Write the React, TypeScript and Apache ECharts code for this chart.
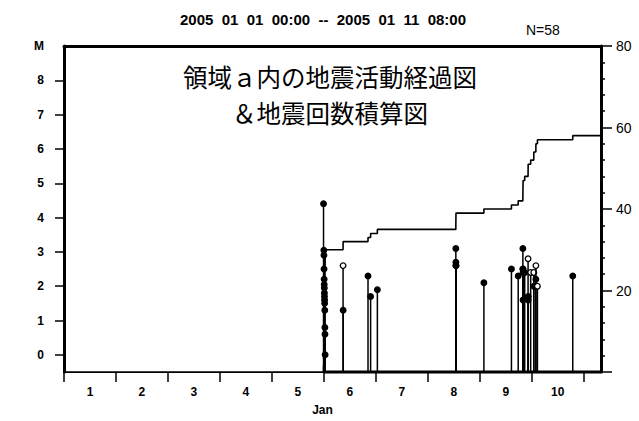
import { useEffect, useRef } from "react";
import * as echarts from "echarts";

const periodTitle = "2005  01  01  00:00  --  2005  01  11  08:00";
const panelTitle1 = "領域ａ内の地震活動経過図";
const panelTitle2 = "＆地震回数積算図";
const countLabel = "N=58";
const monthLabel = "Jan";
const magAxisName = "M";

// event times in days since 2005-01-01 00:00
const eventTimes = [
  4.994, 5.0, 5.001, 5.002, 5.003, 5.004, 5.005, 5.006, 5.007, 5.008,
  5.009, 5.01, 5.011, 5.012, 5.013, 5.014, 5.015, 5.016, 5.017, 5.018,
  5.019, 5.02, 5.021, 5.022, 5.023, 5.024, 5.025, 5.026, 5.027, 5.028,
  5.37, 5.372, 5.85, 5.9, 6.03,
  7.54, 7.541, 7.542, 7.543,
  8.08, 8.61, 8.74,
  8.83, 8.831, 8.832, 8.833, 8.834,
  8.865,
  8.93, 8.931, 8.932,
  8.98,
  9.04, 9.041,
  9.08, 9.081,
  9.11,
  9.79,
];
// null = magnitude not plotted (below the axis range)
const eventMags: (number | null)[] = [
  4.4, 3.05, null, 2.9, null, 2.5, null, 2.2, 2.05, null,
  1.95, null, 1.8, 1.7, null, 1.6, null, 1.5, null, 1.3,
  null, 0.8, null, 0.6, null, null, 0.0, null, null, null,
  2.6, 1.3, 2.3, 1.7, 1.9,
  3.1, 2.7, 2.6, 2.6,
  2.1, 2.5, 2.3,
  3.1, 2.5, 2.5, 1.6, 2.4,
  2.4,
  2.8, 1.6, 1.7,
  2.4,
  2.4, 2.0,
  2.2, 2.6,
  2.0,
  2.3,
];
// 1 = open circle marker
const eventOpen = [
  0, 0, 0, 0, 0, 0, 0, 0, 0, 0,
  0, 0, 0, 0, 0, 0, 0, 0, 0, 0,
  0, 0, 0, 0, 0, 0, 0, 0, 0, 0,
  1, 0, 0, 0, 0,
  0, 0, 0, 0,
  0, 0, 0,
  0, 0, 0, 0, 0,
  0,
  1, 0, 0,
  1,
  1, 0,
  0, 1,
  1,
  0,
];

const dayLabels = ["1", "2", "3", "4", "5", "6", "7", "8", "9", "10"];
const dayBoundaries = [0, 1, 2, 3, 4, 5, 6, 7, 8, 9, 10];
const dayCentres = [0.5, 1.5, 2.5, 3.5, 4.5, 5.5, 6.5, 7.5, 8.5, 9.5];
const magTicks = [0, 1, 2, 3, 4, 5, 6, 7, 8];
const xMax = 31 / 3;
const magMin = -0.5;
const magMax = 9;

export default function App() {
  const ref = useRef<HTMLDivElement>(null);
  useEffect(() => {
    if (!ref.current) return;
    const chart = echarts.init(ref.current, undefined, { renderer: "svg" });

    const stems = eventTimes
      .map((t, i) => [t, eventMags[i], eventOpen[i]])
      .filter((d) => d[1] !== null);
    const cumulative: number[][] = [[0, 0]];
    eventTimes.forEach((t, i) => cumulative.push([t, i + 1]));
    cumulative.push([xMax, eventTimes.length]);
    const activeBase = [
      [eventTimes[0], magMin],
      [xMax, magMin],
    ];

    const labelFont = "Liberation Sans";
    const axisBlack = { color: "#000", width: 3 };

    chart.setOption({
      animation: false,
      backgroundColor: "#fff",
      title: {
        text: periodTitle,
        left: 318,
        top: 7,
        textAlign: "center",
        textStyle: { fontSize: 15, fontWeight: "bold", color: "#000", fontFamily: labelFont },
      },
      graphic: [
        { type: "text", left: 526, top: 23, style: { text: countLabel, fontSize: 14, fill: "#000", fontFamily: labelFont } },
        { type: "text", left: 34, top: 40, style: { text: magAxisName, fontSize: 12, fontWeight: "bold", fill: "#000", fontFamily: labelFont } },
        {
          type: "text",
          x: 330,
          y: 94.5,
          style: {
            text: panelTitle1 + "\n" + panelTitle2,
            fontSize: 24.5,
            lineHeight: 36,
            fill: "#000",
            fontFamily: "Noto Sans CJK JP",
            align: "center",
            verticalAlign: "middle",
          },
        },
      ],
      grid: { left: 64, right: 38, top: 46, bottom: 48, show: false },
      xAxis: [
        {
          type: "value",
          min: 0,
          max: xMax,
          position: "bottom",
          axisLine: { show: true, onZero: false, lineStyle: { color: "#000", width: 1.2 } },
          axisTick: { show: true, customValues: dayBoundaries, length: 10, inside: false, lineStyle: { color: "#000", width: 1.5 } },
          axisLabel: {
            customValues: dayCentres,
            formatter: (v: number) => dayLabels[Math.round(v - 0.5)] ?? "",
            color: "#000",
            fontWeight: "bold",
            fontSize: 12,
            fontFamily: labelFont,
            margin: 14,
          },
          splitLine: { show: false },
          name: monthLabel,
          nameLocation: "middle",
          nameGap: 32,
          nameTextStyle: { color: "#000", fontWeight: "bold", fontSize: 12, fontFamily: labelFont, padding: [0, 20, 0, 0] },
        },
        {
          type: "value",
          min: 0,
          max: xMax,
          position: "top",
          axisLine: { show: true, onZero: false, lineStyle: axisBlack },
          axisTick: { show: false },
          axisLabel: { show: false },
          splitLine: { show: false },
        },
      ],
      yAxis: [
        {
          type: "value",
          min: magMin,
          max: magMax,
          position: "left",
          axisLine: { show: true, onZero: false, lineStyle: axisBlack },
          axisTick: { show: true, customValues: magTicks, length: 9, inside: false, lineStyle: { color: "#000", width: 1.5 } },
          axisLabel: { customValues: magTicks, color: "#000", fontWeight: "bold", fontSize: 12, fontFamily: labelFont, margin: 20 },
          splitLine: { show: false },
        },
        {
          type: "value",
          min: 0,
          max: 80,
          interval: 20,
          position: "right",
          axisLine: { show: true, onZero: false, lineStyle: axisBlack },
          axisTick: { show: true, length: 11, inside: false, lineStyle: { color: "#000", width: 1.5 } },
          minorTick: { show: true, splitNumber: 5, length: 4, lineStyle: { color: "#000", width: 1.5 } },
          axisLabel: {
            formatter: (v: number) => (v === 0 ? "" : String(v)),
            color: "#000",
            fontSize: 14,
            fontFamily: labelFont,
            margin: 15,
          },
          splitLine: { show: false },
          minorSplitLine: { show: false },
        },
      ],
      series: [
        {
          type: "line",
          xAxisIndex: 0,
          yAxisIndex: 0,
          data: activeBase,
          showSymbol: false,
          symbol: "none",
          lineStyle: { color: "#000", width: 3 },
          clip: false,
          z: 2,
        },
        {
          type: "line",
          xAxisIndex: 0,
          yAxisIndex: 1,
          data: cumulative,
          step: "end",
          showSymbol: false,
          symbol: "none",
          lineStyle: { color: "#000", width: 1.6 },
          z: 3,
        },
        {
          type: "custom",
          xAxisIndex: 0,
          yAxisIndex: 0,
          data: stems,
          z: 4,
          renderItem: (params: any, api: any) => {
            const t = api.value(0);
            const m = api.value(1);
            const open = api.value(2);
            const top = api.coord([t, m]);
            const base = api.coord([t, magMin]);
            return {
              type: "group",
              children: [
                { type: "line", shape: { x1: top[0], y1: base[1], x2: top[0], y2: top[1] }, style: { stroke: "#000", lineWidth: 1.5 } },
                { type: "circle", shape: { cx: top[0], cy: top[1], r: 2.8 }, style: { fill: open ? "#fff" : "#000", stroke: "#000", lineWidth: 1.3 } },
              ],
            };
          },
        },
      ],
    });
    return () => chart.dispose();
  }, []);
  return <div ref={ref} style={{ position: "absolute", left: 0, top: 0, width: 639, height: 421 }} />;
}
